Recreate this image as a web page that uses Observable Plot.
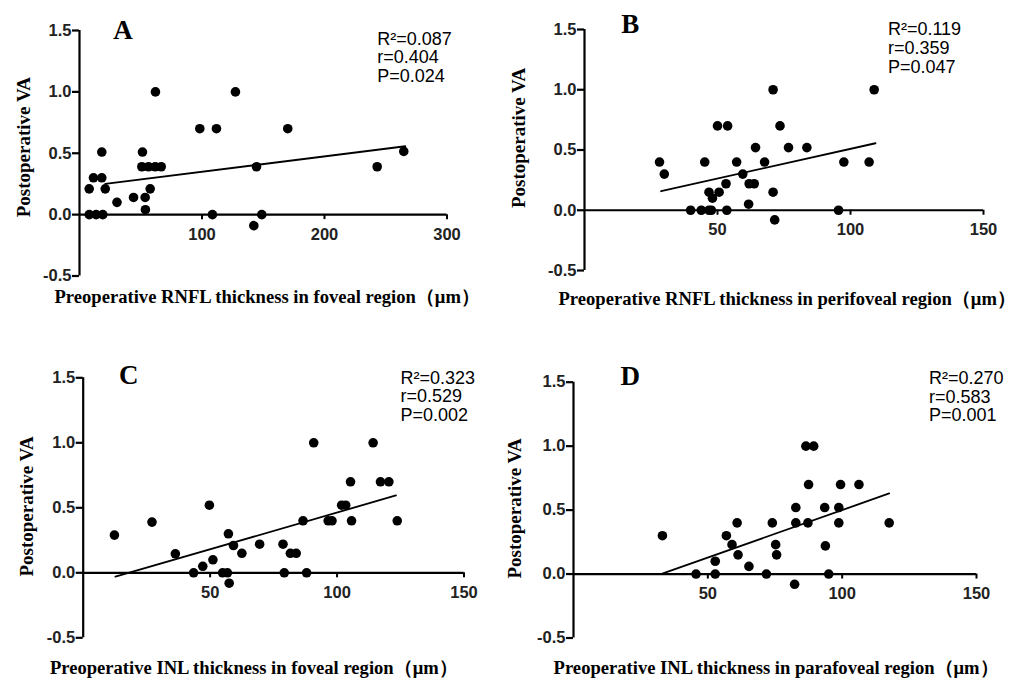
<!DOCTYPE html>
<html>
<head>
<meta charset="utf-8">
<script src="https://cdn.jsdelivr.net/npm/d3@7"></script>
<script src="https://cdn.jsdelivr.net/npm/@observablehq/plot@0.6"></script>
<style>
  html, body { margin: 0; padding: 0; background: #fff; }
  #wrap { position: relative; width: 1034px; height: 680px; overflow: hidden; background: #fff; }
  #wrap > div { position: absolute; }
</style>
</head>
<body>
<div id="wrap"></div>
<script>
// ---------- data ----------
const yTicks = [-0.5, 0, 0.5, 1.0, 1.5];
const xTicksA = [100, 200, 300];
const xTicks150 = [50, 100, 150];

// Panel A: RNFL foveal
const aX = [7.9, 8, 11.4, 13.6, 18.2, 18.2, 19, 21, 30.6, 44.1, 51.4, 50.9, 53.6, 53.8, 57.7, 56.3, 62, 61.8, 66.7, 98.2, 108.5, 111.8, 127.3, 142.3, 144.5, 148.8, 170, 243, 264.7];
const aY = [0.21, 0, 0.30, 0, 0.30, 0.51, 0, 0.21, 0.10, 0.14, 0.51, 0.39, 0.14, 0.04, 0.21, 0.39, 1.0, 0.39, 0.39, 0.70, 0, 0.70, 1.0, -0.09, 0.39, 0, 0.70, 0.39, 0.515];
const aFitX = [21, 266];
const aFitY = [0.25, 0.557];

// Panel B: RNFL perifoveal
const bX = [28.2, 30, 39.9, 43.9, 46.8, 47.7, 53.5, 45.2, 46.8, 50.6, 48.1, 53.2, 50, 53.8, 57.2, 59.5, 61.9, 63.8, 61.7, 64.3, 67.7, 70.9, 71.5, 70.9, 73.5, 76.7, 83.6, 95.5, 97.5, 107, 108.9];
const bY = [0.40, 0.30, 0, 0, 0, 0, 0, 0.40, 0.15, 0.15, 0.10, 0.22, 0.70, 0.70, 0.40, 0.30, 0.22, 0.22, 0.05, 0.52, 0.40, 0.15, -0.08, 1.0, 0.70, 0.52, 0.52, 0, 0.40, 0.40, 1.0];
const bFitX = [28.8, 109.4];
const bFitY = [0.158, 0.556];

// Panel C: INL foveal
const cX = [12.3, 27.1, 36.3, 43.5, 47.1, 49.7, 51.1, 54.9, 56.8, 57.2, 57.5, 59.2, 62.5, 69.5, 78.7, 79.2, 81.6, 83.9, 86.6, 88, 90.8, 96.5, 98, 101.8, 103.4, 105.3, 105.7, 114.2, 117.1, 120.4, 123.7];
const cY = [0.29, 0.39, 0.146, 0, 0.05, 0.52, 0.10, 0, 0, 0.30, -0.08, 0.21, 0.15, 0.22, 0.22, 0, 0.15, 0.15, 0.40, 0, 1.0, 0.40, 0.40, 0.52, 0.52, 0.70, 0.40, 1.0, 0.70, 0.70, 0.40];
const cFitX = [12.7, 123.2];
const cFitY = [-0.03, 0.595];

// Panel D: INL parafoveal
const dX = [33.1, 45.6, 52.75, 52.75, 56.9, 59, 60.9, 61.25, 65.3, 71.8, 74, 75.25, 75.6, 82.3, 82.75, 82.75, 86.5, 89.4, 87.5, 87.25, 93.5, 93.75, 95, 98.75, 98.75, 99.4, 106.25, 117.5];
const dY = [0.30, 0, 0, 0.10, 0.30, 0.23, 0.40, 0.15, 0.06, 0, 0.40, 0.23, 0.15, -0.08, 0.52, 0.40, 1.0, 1.0, 0.70, 0.40, 0.52, 0.22, 0, 0.52, 0.40, 0.70, 0.70, 0.40];
const dFitX = [33.3, 117.5];
const dFitY = [0.005, 0.63];

const letters = ["A", "B", "C", "D"];
const statsA = ["R²=0.087", "r=0.404", "P=0.024"];
const statsB = ["R²=0.119", "r=0.359", "P=0.047"];
const statsC = ["R²=0.323", "r=0.529", "P=0.002"];
const statsD = ["R²=0.270", "r=0.583", "P=0.001"];
const yLabel = "Postoperative VA";
const xLabels = [
  "Preoperative RNFL thickness in foveal region（μm）",
  "Preoperative RNFL thickness in perifoveal region（μm）",
  "Preoperative INL thickness in foveal region（μm）",
  "Preoperative INL thickness in parafoveal region（μm）"
];

// ---------- layout ----------
const panels = [
  {left: 0, top: 0, width: 500, height: 320, mL: 79, mR: 53.5, mT: 30, mB: 44.5, xMax: 300, xTicks: xTicksA,
   xs: aX, ys: aY, fx: aFitX, fy: aFitY, letter: letters[0], stats: statsA, xLabel: xLabels[0],
   pLetter: [43.5, -0.5], pStats: [297.7, 26.8], pY: [-55.7, 116.7], pX: [187.7, 266.5]},
  {left: 500, top: 0, width: 534, height: 320, mL: 84, mR: 51, mT: 29, mB: 50, xMax: 150, xTicks: xTicks150,
   xs: bX, ys: bY, fx: bFitX, fy: bFitY, letter: letters[1], stats: statsB, xLabel: xLabels[1],
   pLetter: [45.7, -5], pStats: [303.4, 18.5], pY: [-65.2, 108.5], pX: [202.7, 270]},
  {left: 0, top: 320, width: 500, height: 360, mL: 82.7, mR: 36.5, mT: 57.3, mB: 42.7, xMax: 150, xTicks: xTicks150,
   xs: cX, ys: cY, fx: cFitX, fy: cFitY, letter: letters[2], stats: statsC, xLabel: xLabels[2],
   pLetter: [45.6, -2], pStats: [317.3, 18.5], pY: [-56, 128.7], pX: [170.6, 290.2]},
  {left: 500, top: 320, width: 534, height: 360, mL: 73, mR: 58, mT: 61.7, mB: 42.5, xMax: 150, xTicks: xTicks150,
   xs: dX, ys: dY, fx: dFitX, fy: dFitY, letter: letters[3], stats: statsD, xLabel: xLabels[3],
   pLetter: [56.7, -6], pStats: [355.4, 14.3], pY: [-59, 126.3], pX: [202.6, 286.3]}
];

const SANS = "Liberation Sans, Arial, sans-serif";
const SERIF = "Liberation Serif, Times New Roman, serif";

function makePanel(p) {
  const pts = p.xs.map((x, i) => ({x, y: p.ys[i]}));
  const fit = p.fx.map((x, i) => ({x, y: p.fy[i]}));
  return Plot.plot({
    width: p.width,
    height: p.height,
    marginLeft: p.mL,
    marginRight: p.mR,
    marginTop: p.mT,
    marginBottom: p.mB,
    style: {background: "white", color: "black", fontFamily: SANS, fontSize: "16px", overflow: "visible"},
    x: {domain: [0, p.xMax], axis: null},
    y: {domain: [-0.5, 1.5], axis: null},
    marks: [
      // y axis line, ticks, labels
      Plot.ruleX([0], {stroke: "black", strokeWidth: 2.2}),
      Plot.ruleY(yTicks, {y: d => d, x1: 0, x2: 0, insetLeft: -7, stroke: "black", strokeWidth: 2.2}),
      Plot.text(yTicks, {x: 0, y: d => d, text: d => d.toFixed(1), textAnchor: "end", lineAnchor: "middle", dx: -8,
        fontWeight: "bold", fontSize: 16.5, fontFamily: SANS, fill: "#222"}),
      // x axis at y = 0
      Plot.ruleY([0], {stroke: "black", strokeWidth: 2.2}),
      Plot.ruleX(p.xTicks, {x: d => d, y1: 0, y2: 0, insetBottom: -5, stroke: "black", strokeWidth: 2}),
      Plot.text(p.xTicks, {x: d => d, y: 0, text: d => String(d), dy: 19.7, lineAnchor: "middle",
        fontWeight: "bold", fontSize: 16.5, fontFamily: SANS, fill: "#222"}),
      // regression line
      Plot.line(fit, {x: "x", y: "y", stroke: "black", strokeWidth: 1.8}),
      // points
      Plot.dot(pts, {x: "x", y: "y", r: 4.8, fill: "black", stroke: "none"}),
      // panel letter
      Plot.text([p.letter], {frameAnchor: "top-left", text: d => d, dx: p.pLetter[0], dy: p.pLetter[1],
        textAnchor: "middle", lineAnchor: "middle", fontFamily: SERIF, fontWeight: "bold", fontSize: 27, fill: "black"}),
      // stats
      Plot.text([p.stats.join("\n")], {frameAnchor: "top-left", text: d => d, dx: p.pStats[0], dy: p.pStats[1],
        textAnchor: "start", lineAnchor: "middle", lineHeight: 1.04, fontFamily: SANS, fontSize: 18, fill: "black"}),
      // y label
      Plot.text([yLabel], {frameAnchor: "top-left", text: d => d, dx: p.pY[0], dy: p.pY[1], rotate: -90,
        textAnchor: "middle", lineAnchor: "middle", fontFamily: SERIF, fontWeight: "bold", fontSize: 19, fill: "black"}),
      // x label
      Plot.text([p.xLabel], {frameAnchor: "top-left", text: d => d, dx: p.pX[0], dy: p.pX[1],
        textAnchor: "middle", lineAnchor: "middle", fontFamily: SERIF, fontWeight: "bold", fontSize: 18.6, fill: "black"})
    ]
  });
}

const wrap = document.getElementById("wrap");
for (const p of panels) {
  const div = document.createElement("div");
  div.style.left = p.left + "px";
  div.style.top = p.top + "px";
  div.appendChild(makePanel(p));
  wrap.appendChild(div);
}
</script>
</body>
</html>
